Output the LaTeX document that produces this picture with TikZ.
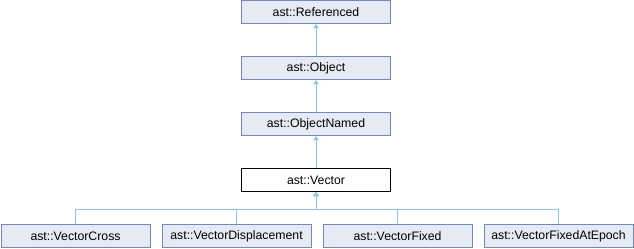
\documentclass[tikz,border=0pt]{standalone}
\usepackage{fontspec}
\setsansfont{Liberation Sans}
\usepackage{tikz}
\usetikzlibrary{positioning,arrows.meta}
\definecolor{boxfill}{HTML}{E6EBF3}
\definecolor{boxline}{HTML}{7088BC}
\definecolor{linkcol}{HTML}{8CC8E6}

\begin{document}
\begin{tikzpicture}[
    x=0.75pt, y=-0.75pt,
    node distance=24pt and 8.25pt,
    cls/.style={rectangle, draw=boxline, fill=boxfill, line width=0.75pt,
                minimum width=111.75pt, minimum height=17.25pt, inner sep=0pt,
                font=\sffamily\fontsize{9.2}{10}\selectfont},
    cur/.style={cls, draw=black, fill=white},
    inh/.style={-{Triangle[length=3pt,width=4pt]}, draw=linkcol, line width=0.75pt}
]
\useasboundingbox (0,0) rectangle (634,248);

\node[cur] (vec) at (316,180) {ast::Vector};
\node[cls, above=of vec] (objnamed) {ast::ObjectNamed};
\node[cls, above=of objnamed] (obj) {ast::Object};
\node[cls, above=of obj] (refd) {ast::Referenced};

\node[cls, below=of vec, xshift=-59.6pt] (vdisp) {ast::VectorDisplacement};
\node[cls, left=of vdisp] (vcross) {ast::VectorCross};
\node[cls, right=of vdisp] (vfixed) {ast::VectorFixed};
\node[cls, right=of vfixed] (vepoch) {ast::VectorFixedAtEpoch};

\draw[inh] (obj) -- (refd);
\draw[inh] (objnamed) -- (obj);
\draw[inh] (vec) -- (objnamed);
\foreach \c in {vcross,vdisp,vfixed,vepoch}
  \draw[inh] (\c.north) -- ++(0,-15) -| (vec.south);
\end{tikzpicture}
\end{document}
